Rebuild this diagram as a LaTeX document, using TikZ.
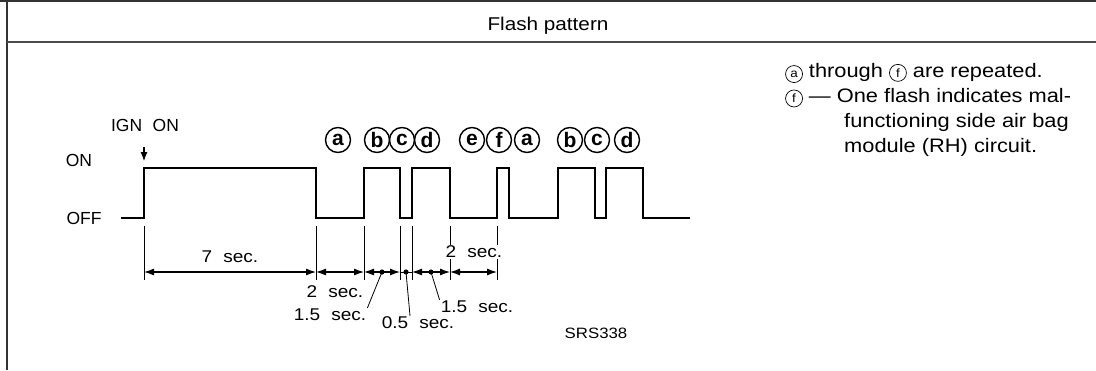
\documentclass[tikz,border=0pt]{standalone}
\usepackage{fontspec}
\setmainfont{Liberation Sans}
\newfontfamily\widefont[FakeStretch=1.12,Ligatures=TeX]{Liberation Sans}
\usetikzlibrary{arrows.meta,positioning,calc}

\newcommand{\wsp}{\hspace{0.65em}}
\newcommand{\encl}[1]{\tikz[baseline=(enc.base)]\node[circle,draw,line width=0.7pt,inner sep=0pt,minimum size=17pt,font=\fontsize{12}{12}\selectfont] (enc) {#1};}

\begin{document}
\begin{tikzpicture}[
  x=1pt,y=-1pt,
  rule/.style={draw=black!80,line width=1.8pt},
  wave/.style={line width=2.2pt,line join=miter},
  ext/.style={line width=1pt},
  dim/.style={{Latex[length=10pt,width=7pt]}-{Latex[length=10pt,width=7pt]},line width=1.1pt},
  lead/.style={line width=0.8pt},
  lbl/.style={font=\widefont\fontsize{17}{20}\selectfont,inner sep=1pt},
  code/.style={circle,draw,line width=1.4pt,minimum size=25pt,inner sep=0pt,font=\fontsize{21}{21}\selectfont\bfseries},
  note/.style={anchor=west,inner sep=0pt,font=\widefont\fontsize{19.5}{22}\selectfont}
]
\useasboundingbox (0,0) rectangle (1096,370);
% frame and heading
\draw[rule] (0,1) -- (1096,1);
\draw[rule] (7,0) -- (7,370);
\draw[rule,draw=black!70,line width=2.4pt] (7,42) -- (1096,42);
\node[font=\widefont\fontsize{18.5}{22}\selectfont] (title) at (548,26) {Flash pattern};

% signal
\draw[wave] (121,218) -- (144,218) |- (316,168) |- (364,218) |- (400,168) |- (412,218)
  |- (450,168) |- (497,218) |- (509,168) |- (558,218) |- (595,168) |- (606,218)
  |- (643,168) |- (690,218);
\coordinate (rise) at (144,168);
\node[lbl,font=\fontsize{17.5}{20}\selectfont] (on) at (79,160) {ON};
\node[lbl,font=\fontsize{17.5}{20}\selectfont] (off) at (84,218) {OFF};
\node[lbl,font=\fontsize{17.5}{20}\selectfont] (ign) at (145,125) {IGN\hspace{0.6em}ON};
\draw[-{Latex[length=9pt,width=7pt]},line width=1.1pt] ([yshift=21pt]rise) -- ([yshift=7pt]rise);

% code numbers
\node[code] (ca1) at (338,140) {a};
\node[code] (cb1) at (377,140) {b};
\node[code] (cc1) at (402,140) {c};
\node[code] (cd1) at (427,140) {d};
\node[code] (ce1) at (472,140) {e};
\node[code] (cf1) at (499,140) {f};
\node[code] (ca2) at (527,140) {a};
\node[code] (cb2) at (570,140) {b};
\node[code] (cc2) at (597,140) {c};
\node[code] (cd2) at (627,140) {d};

% timing
\coordinate (d0) at (144,272);
\coordinate (d1) at (316,272);
\coordinate (d2) at (364,272);
\coordinate (d3) at (400,272);
\coordinate (d4) at (412,272);
\coordinate (d5) at (450,272);
\coordinate (d6) at (497,272);
\foreach \p in {d0,d1,d2,d3,d4,d5,d6}
  \draw[ext] ([yshift=46pt]\p) -- ([yshift=-8pt]\p);
\draw[dim] (d0) -- (d1);
\draw[dim] (d1) -- (d2);
\draw[dim] (d2) -- (d3);
\draw[ext] (d3) -- (d4);
\draw[dim] (d4) -- (d5);
\draw[dim] (d5) -- (d6);
\coordinate (m1) at ($(d2)!0.5!(d3)$);
\coordinate (m2) at ($(d3)!0.5!(d4)$);
\coordinate (m3) at ($(d4)!0.5!(d5)$);
\fill (m1) circle (2.6);
\fill (m2) circle (2.6);
\fill (m3) circle (2.6);

\node[lbl] (l7) at (230,257) {7\wsp sec.};
\node[lbl] (l2a) at (335,292) {2\wsp sec.};
\node[lbl] (l15a) at (330,315) {1.5\wsp sec.};
\node[lbl] (l05) at (418,323) {0.5\wsp sec.};
\node[lbl] (l15b) at (477,307) {1.5\wsp sec.};
\node[lbl,fill=white] (l2b) at (474,252) {2\wsp sec.};
\draw[lead] (m1) -- (l15a.north east);
\draw[lead] (m2) -- ([xshift=-8pt]l05.north);
\draw[lead] (m3) -- (l15b.north west);

% notes
\node[note] (n1) at (785,73) {\encl{a} through \encl{f} are repeated.};
\node[note] (n2) at (785,98) {\encl{f} — One flash indicates mal-};
\node[note] (n3) at (844,122) {functioning side air bag};
\node[note] (n4) at (844,147) {module (RH) circuit.};

\node[font=\widefont\fontsize{15}{17}\selectfont] (ref) at (596,333) {SRS338};
\end{tikzpicture}
\end{document}
